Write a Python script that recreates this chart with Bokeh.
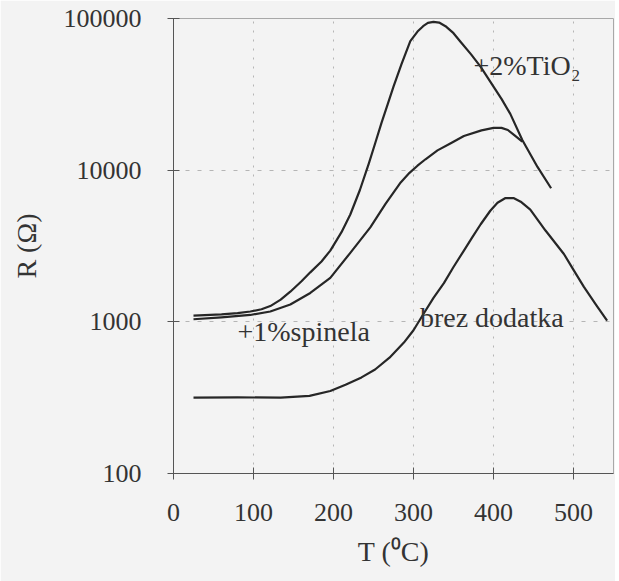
from bokeh.plotting import figure
from bokeh.models import Range1d, FixedTicker, Label
from bokeh.embed import file_html
from bokeh.resources import INLINE

# --- data ---
t_tio2 = [25, 60, 80, 96, 110, 121, 134, 146, 160, 171, 185, 196, 210, 221, 233, 244, 252, 260, 268, 275, 285, 296, 305, 312, 318, 325, 332, 340, 350, 359, 372, 384, 400, 410, 421, 436, 455, 472]
r_tio2 = [1100, 1120, 1140, 1170, 1210, 1270, 1400, 1580, 1850, 2120, 2500, 2950, 3900, 5100, 7400, 11000, 15000, 20500, 27500, 35500, 50000, 71000, 82000, 89000, 93500, 95000, 94000, 89000, 80000, 70000, 58000, 48000, 35500, 29500, 23500, 15800, 10500, 7600]

t_spin = [25, 60, 96, 121, 146, 171, 196, 221, 246, 265, 284, 295, 305, 315, 330, 346, 363, 385, 400, 410, 418, 426, 436]
r_spin = [1040, 1070, 1110, 1170, 1300, 1550, 1950, 2850, 4200, 6000, 8300, 9600, 10700, 11800, 13500, 15000, 16800, 18300, 19000, 19000, 18400, 17000, 15400]

t_brez = [25, 80, 134, 170, 196, 215, 235, 252, 270, 288, 300, 313, 325, 338, 350, 363, 374, 384, 396, 405, 415, 425, 434, 446, 465, 488, 500, 513, 528, 542]
r_brez = [316, 318, 316, 325, 350, 385, 430, 485, 580, 730, 880, 1140, 1440, 1800, 2300, 2950, 3650, 4400, 5400, 6100, 6550, 6550, 6200, 5500, 4000, 2800, 2200, 1700, 1300, 1020]

x_ticks = [0, 100, 200, 300, 400, 500]
y_ticks = [100, 1000, 10000, 100000]

labels = ["+2%TiO\u2082", "+1%spinela", "brez dodatka"]
label_t = [375, 80, 308]
label_r = [49000, 870, 1060]

FONT = "Liberation Serif"
TXT = "#333333"
BG = "#f3f3f3"

p = figure(width=615, height=581, y_axis_type="log",
           x_range=Range1d(0, 550), y_range=Range1d(100, 100000),
           output_backend="svg", toolbar_location=None,
           min_border_left=173, min_border_top=18, min_border_right=2, min_border_bottom=108)

p.background_fill_color = BG
p.border_fill_color = BG
p.outline_line_color = "#a8a8a8"
p.outline_line_width = 1

for ax in (p.xaxis, p.yaxis):
    ax.axis_line_color = "#555555"
    ax.major_tick_line_color = "#555555"
    ax.major_tick_in = 6
    ax.major_tick_out = 6
    ax.minor_tick_line_color = None
    ax.major_label_text_font = FONT
    ax.major_label_text_font_size = "26px"
    ax.major_label_text_color = TXT
    ax.axis_label_text_font = FONT
    ax.axis_label_text_font_size = "28px"
    ax.axis_label_text_font_style = "normal"
    ax.axis_label_text_color = TXT

p.xaxis.ticker = FixedTicker(ticks=x_ticks)
p.yaxis.ticker = FixedTicker(ticks=y_ticks)
p.yaxis.major_label_overrides = {v: str(v) for v in y_ticks}
p.yaxis.major_label_standoff = 26
p.xaxis.major_label_standoff = 24
p.xaxis.axis_label = "T (\u2070C)"
p.xaxis.axis_label_standoff = 12
p.yaxis.axis_label = "R (\u03a9)"
p.yaxis.axis_label_standoff = 19

p.xgrid.ticker = FixedTicker(ticks=[100, 200, 300, 400, 500])
p.ygrid.ticker = FixedTicker(ticks=[1000, 10000])
p.xgrid.grid_line_color = "#b5b5b5"
p.xgrid.grid_line_dash = "2 7"
p.ygrid.grid_line_color = "#b5b5b5"
p.ygrid.grid_line_dash = "4 8"

for t, r in ((t_tio2, r_tio2), (t_spin, r_spin), (t_brez, r_brez)):
    p.line(t, r, line_color="#262626", line_width=2.2, line_join="round")

for txt, t, r in zip(labels, label_t, label_r):
    p.add_layout(Label(x=t, y=r, text=txt, text_font=FONT, text_font_size="28px",
                       text_color=TXT, text_baseline="middle", text_align="left"))

open("out.html", "w").write(file_html(p, INLINE))
